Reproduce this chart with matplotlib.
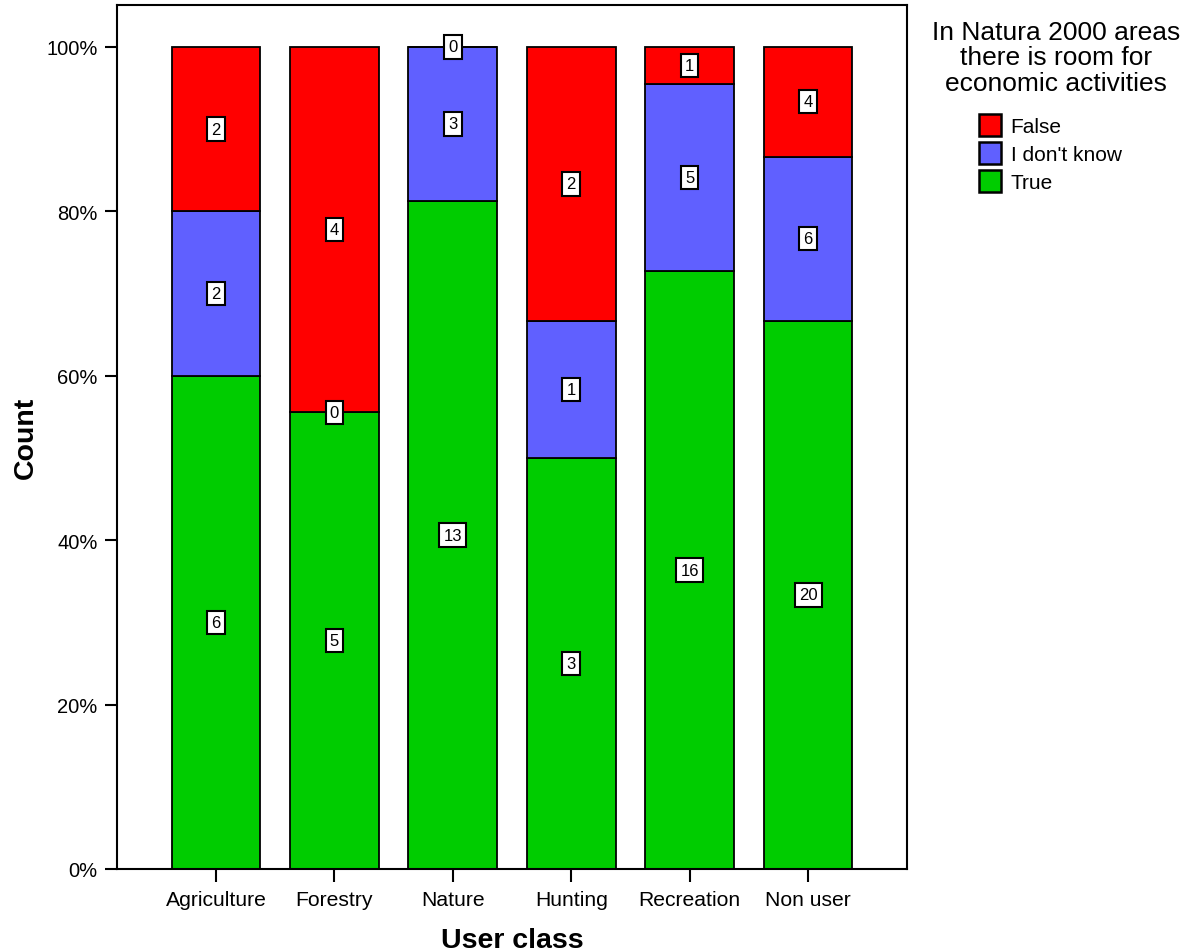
import numpy as np
import matplotlib.pyplot as plt
from matplotlib.patches import Patch
from matplotlib.ticker import FuncFormatter

plt.rcParams['font.family'] = ['Liberation Sans', 'DejaVu Sans']

# Data: counts per user class
user_classes = ['Agriculture', 'Forestry', 'Nature', 'Hunting', 'Recreation', 'Non user']
true_counts = [6, 5, 13, 3, 16, 20]
idk_counts = [2, 0, 3, 1, 5, 6]
false_counts = [2, 4, 0, 2, 1, 4]

categories = ['True', "I don't know", 'False']
colors = {'True': '#00CC00', "I don't know": '#6060FF', 'False': '#FF0000'}

counts = np.array([true_counts, idk_counts, false_counts], dtype=float)
totals = counts.sum(axis=0)
pct = counts / totals * 100

fig = plt.figure(figsize=(11.96, 9.53), dpi=100)
ax = fig.add_axes([0.0978, 0.0871, 0.6606, 0.9066])

x = np.arange(len(user_classes))
bottom = np.zeros(len(user_classes))
for i, cat in enumerate(categories):
    ax.bar(x, pct[i], 0.75, bottom=bottom, color=colors[cat],
           edgecolor='black', linewidth=1.3, zorder=2)
    for j in range(len(x)):
        ax.text(x[j], bottom[j] + pct[i][j] / 2, f'{int(counts[i][j])}',
                ha='center', va='center', fontsize=12, zorder=4,
                bbox=dict(boxstyle='square,pad=0.25', facecolor='white',
                          edgecolor='black', linewidth=1.5))
    bottom += pct[i]

ax.set_xlim(-0.836, 5.836)
ax.set_ylim(0, 105.1)
ax.set_yticks([0, 20, 40, 60, 80, 100])
ax.yaxis.set_major_formatter(FuncFormatter(lambda v, p: f'{int(v)}%'))
ax.set_xticks(x)
ax.set_xticklabels(user_classes)
ax.tick_params(axis='both', direction='out', length=9, width=1.5, labelsize=14.5)
ax.tick_params(axis='x', pad=6, labelsize=15.2)
ax.tick_params(axis='y', pad=5)
for s in ax.spines.values():
    s.set_linewidth(1.5)

ax.set_xlabel('User class', fontsize=20.5, fontweight='bold', labelpad=13)
ax.set_ylabel('Count', fontsize=20.5, fontweight='bold', labelpad=5)

fig.text(0.883, 0.939, 'In Natura 2000 areas\nthere is room for\neconomic activities',
         ha='center', va='center', fontsize=19, linespacing=1.08)

handles = [Patch(facecolor=colors[c], edgecolor='black', linewidth=1.8)
           for c in ['False', "I don't know", 'True']]
fig.legend(handles, ['False', "I don't know", 'True'], loc='upper left',
           bbox_to_anchor=(0.812, 0.888), frameon=False, fontsize=15,
           handlelength=1.05, handleheight=1.25, handletextpad=0.45,
           labelspacing=0.28, borderaxespad=0)

fig.savefig('out.png', dpi=100, facecolor='white')
